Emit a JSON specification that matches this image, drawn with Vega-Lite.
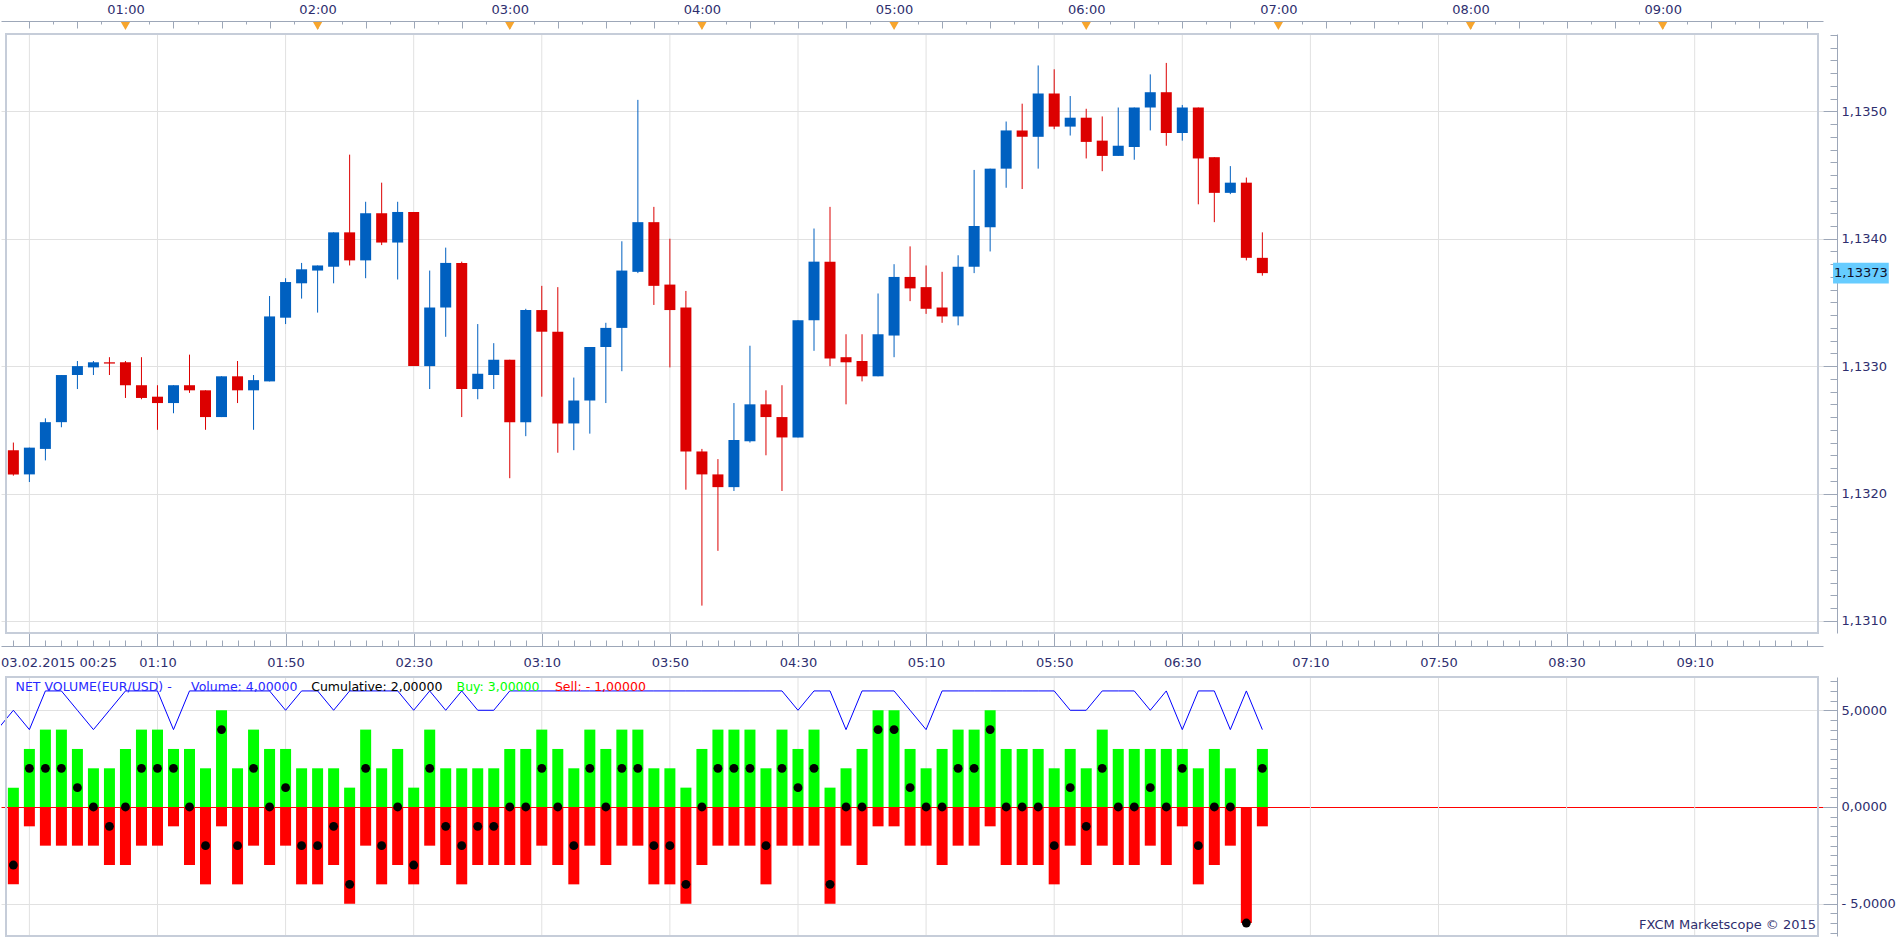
{
"$schema": "https://vega.github.io/schema/vega-lite/v6.json",
"width": 1822, "height": 902,
"autosize": {"type": "none"},
"padding": {"left": 1, "top": 34, "right": 80, "bottom": 1},
"background": "white",
"config": {
  "view": {"stroke": null},
  "axis": {"labelFont": "DejaVu Sans", "labelFontSize": 13, "labelColor": "#2e2e6e", "domainColor": "#9da7b8", "tickColor": "#9da7b8", "gridColor": "#e1e1e1", "domainWidth": 1, "tickWidth": 1, "gridWidth": 1, "labelOverlap": false}
},
"datasets": {
  "candles": [
    {"t":25,"o":1.13234,"h":1.13240,"l":1.13214,"c":1.13215},
    {"t":30,"o":1.13215,"h":1.13236,"l":1.13209,"c":1.13236},
    {"t":35,"o":1.13235,"h":1.13259,"l":1.13226,"c":1.13256},
    {"t":40,"o":1.13256,"h":1.13293,"l":1.13252,"c":1.13293},
    {"t":45,"o":1.13293,"h":1.13304,"l":1.13282,"c":1.13300},
    {"t":50,"o":1.13299,"h":1.13304,"l":1.13293,"c":1.13303},
    {"t":55,"o":1.13303,"h":1.13307,"l":1.13293,"c":1.13302},
    {"t":60,"o":1.13303,"h":1.13304,"l":1.13275,"c":1.13285},
    {"t":65,"o":1.13285,"h":1.13307,"l":1.13274,"c":1.13275},
    {"t":70,"o":1.13276,"h":1.13285,"l":1.13250,"c":1.13271},
    {"t":75,"o":1.13271,"h":1.13285,"l":1.13263,"c":1.13285},
    {"t":80,"o":1.13285,"h":1.13309,"l":1.13279,"c":1.13281},
    {"t":85,"o":1.13281,"h":1.13281,"l":1.13250,"c":1.13260},
    {"t":90,"o":1.13260,"h":1.13292,"l":1.13260,"c":1.13292},
    {"t":95,"o":1.13292,"h":1.13304,"l":1.13271,"c":1.13281},
    {"t":100,"o":1.13281,"h":1.13293,"l":1.13250,"c":1.13289},
    {"t":105,"o":1.13288,"h":1.13355,"l":1.13288,"c":1.13339},
    {"t":110,"o":1.13338,"h":1.13369,"l":1.13333,"c":1.13366},
    {"t":115,"o":1.13365,"h":1.13381,"l":1.13353,"c":1.13376},
    {"t":120,"o":1.13375,"h":1.13379,"l":1.13342,"c":1.13379},
    {"t":125,"o":1.13378,"h":1.13405,"l":1.13365,"c":1.13405},
    {"t":130,"o":1.13405,"h":1.13466,"l":1.13379,"c":1.13383},
    {"t":135,"o":1.13383,"h":1.13429,"l":1.13369,"c":1.13420},
    {"t":140,"o":1.13420,"h":1.13444,"l":1.13395,"c":1.13397},
    {"t":145,"o":1.13397,"h":1.13429,"l":1.13368,"c":1.13421},
    {"t":150,"o":1.13421,"h":1.13421,"l":1.13300,"c":1.13300},
    {"t":155,"o":1.13300,"h":1.13375,"l":1.13282,"c":1.13346},
    {"t":160,"o":1.13346,"h":1.13393,"l":1.13323,"c":1.13381},
    {"t":165,"o":1.13381,"h":1.13382,"l":1.13260,"c":1.13282},
    {"t":170,"o":1.13282,"h":1.13333,"l":1.13274,"c":1.13294},
    {"t":175,"o":1.13293,"h":1.13318,"l":1.13282,"c":1.13305},
    {"t":180,"o":1.13305,"h":1.13305,"l":1.13212,"c":1.13256},
    {"t":185,"o":1.13256,"h":1.13345,"l":1.13245,"c":1.13344},
    {"t":190,"o":1.13344,"h":1.13363,"l":1.13276,"c":1.13327},
    {"t":195,"o":1.13327,"h":1.13362,"l":1.13232,"c":1.13255},
    {"t":200,"o":1.13255,"h":1.13291,"l":1.13234,"c":1.13273},
    {"t":205,"o":1.13273,"h":1.13315,"l":1.13247,"c":1.13315},
    {"t":210,"o":1.13315,"h":1.13334,"l":1.13271,"c":1.13330},
    {"t":215,"o":1.13330,"h":1.13398,"l":1.13296,"c":1.13375},
    {"t":220,"o":1.13374,"h":1.13509,"l":1.13373,"c":1.13413},
    {"t":225,"o":1.13413,"h":1.13425,"l":1.13348,"c":1.13363},
    {"t":230,"o":1.13364,"h":1.13400,"l":1.13299,"c":1.13344},
    {"t":235,"o":1.13346,"h":1.13359,"l":1.13203,"c":1.13233},
    {"t":240,"o":1.13233,"h":1.13235,"l":1.13112,"c":1.13215},
    {"t":245,"o":1.13215,"h":1.13227,"l":1.13155,"c":1.13205},
    {"t":250,"o":1.13205,"h":1.13271,"l":1.13202,"c":1.13242},
    {"t":255,"o":1.13241,"h":1.13316,"l":1.13240,"c":1.13270},
    {"t":260,"o":1.13270,"h":1.13281,"l":1.13230,"c":1.13260},
    {"t":265,"o":1.13260,"h":1.13285,"l":1.13202,"c":1.13244},
    {"t":270,"o":1.13244,"h":1.13336,"l":1.13244,"c":1.13336},
    {"t":275,"o":1.13336,"h":1.13408,"l":1.13312,"c":1.13382},
    {"t":280,"o":1.13382,"h":1.13425,"l":1.13300,"c":1.13306},
    {"t":285,"o":1.13307,"h":1.13325,"l":1.13270,"c":1.13303},
    {"t":290,"o":1.13304,"h":1.13325,"l":1.13288,"c":1.13292},
    {"t":295,"o":1.13292,"h":1.13357,"l":1.13292,"c":1.13325},
    {"t":300,"o":1.13324,"h":1.13380,"l":1.13307,"c":1.13370},
    {"t":305,"o":1.13370,"h":1.13394,"l":1.13351,"c":1.13361},
    {"t":310,"o":1.13362,"h":1.13379,"l":1.13341,"c":1.13345},
    {"t":315,"o":1.13346,"h":1.13374,"l":1.13334,"c":1.13339},
    {"t":320,"o":1.13339,"h":1.13387,"l":1.13332,"c":1.13378},
    {"t":325,"o":1.13378,"h":1.13454,"l":1.13373,"c":1.13410},
    {"t":330,"o":1.13409,"h":1.13455,"l":1.13390,"c":1.13455},
    {"t":335,"o":1.13455,"h":1.13492,"l":1.13440,"c":1.13485},
    {"t":340,"o":1.13485,"h":1.13506,"l":1.13439,"c":1.13480},
    {"t":345,"o":1.13480,"h":1.13536,"l":1.13455,"c":1.13514},
    {"t":350,"o":1.13514,"h":1.13533,"l":1.13486,"c":1.13488},
    {"t":355,"o":1.13488,"h":1.13512,"l":1.13481,"c":1.13495},
    {"t":360,"o":1.13495,"h":1.13502,"l":1.13463,"c":1.13476},
    {"t":365,"o":1.13477,"h":1.13496,"l":1.13453,"c":1.13465},
    {"t":370,"o":1.13465,"h":1.13503,"l":1.13465,"c":1.13473},
    {"t":375,"o":1.13472,"h":1.13503,"l":1.13462,"c":1.13503},
    {"t":380,"o":1.13503,"h":1.13529,"l":1.13485,"c":1.13515},
    {"t":385,"o":1.13515,"h":1.13538,"l":1.13473,"c":1.13483},
    {"t":390,"o":1.13483,"h":1.13505,"l":1.13477,"c":1.13503},
    {"t":395,"o":1.13503,"h":1.13503,"l":1.13427,"c":1.13463},
    {"t":400,"o":1.13464,"h":1.13464,"l":1.13413,"c":1.13436},
    {"t":405,"o":1.13436,"h":1.13457,"l":1.13435,"c":1.13444},
    {"t":410,"o":1.13444,"h":1.13448,"l":1.13383,"c":1.13385},
    {"t":415,"o":1.13385,"h":1.13405,"l":1.13371,"c":1.13373}
  ],
  "vol": [
    {"t":20,"vol":4},
    {"t":25,"buy":1,"sell":-4,"vol":5,"net":-3},
    {"t":30,"buy":3,"sell":-1,"vol":4,"net":2},
    {"t":35,"buy":4,"sell":-2,"vol":6,"net":2},
    {"t":40,"buy":4,"sell":-2,"vol":6,"net":2},
    {"t":45,"buy":3,"sell":-2,"vol":5,"net":1},
    {"t":50,"buy":2,"sell":-2,"vol":4,"net":0},
    {"t":55,"buy":2,"sell":-3,"vol":5,"net":-1},
    {"t":60,"buy":3,"sell":-3,"vol":6,"net":0},
    {"t":65,"buy":4,"sell":-2,"vol":6,"net":2},
    {"t":70,"buy":4,"sell":-2,"vol":6,"net":2},
    {"t":75,"buy":3,"sell":-1,"vol":4,"net":2},
    {"t":80,"buy":3,"sell":-3,"vol":6,"net":0},
    {"t":85,"buy":2,"sell":-4,"vol":6,"net":-2},
    {"t":90,"buy":5,"sell":-1,"vol":6,"net":4},
    {"t":95,"buy":2,"sell":-4,"vol":6,"net":-2},
    {"t":100,"buy":4,"sell":-2,"vol":6,"net":2},
    {"t":105,"buy":3,"sell":-3,"vol":6,"net":0},
    {"t":110,"buy":3,"sell":-2,"vol":5,"net":1},
    {"t":115,"buy":2,"sell":-4,"vol":6,"net":-2},
    {"t":120,"buy":2,"sell":-4,"vol":6,"net":-2},
    {"t":125,"buy":2,"sell":-3,"vol":5,"net":-1},
    {"t":130,"buy":1,"sell":-5,"vol":6,"net":-4},
    {"t":135,"buy":4,"sell":-2,"vol":6,"net":2},
    {"t":140,"buy":2,"sell":-4,"vol":6,"net":-2},
    {"t":145,"buy":3,"sell":-3,"vol":6,"net":0},
    {"t":150,"buy":1,"sell":-4,"vol":5,"net":-3},
    {"t":155,"buy":4,"sell":-2,"vol":6,"net":2},
    {"t":160,"buy":2,"sell":-3,"vol":5,"net":-1},
    {"t":165,"buy":2,"sell":-4,"vol":6,"net":-2},
    {"t":170,"buy":2,"sell":-3,"vol":5,"net":-1},
    {"t":175,"buy":2,"sell":-3,"vol":5,"net":-1},
    {"t":180,"buy":3,"sell":-3,"vol":6,"net":0},
    {"t":185,"buy":3,"sell":-3,"vol":6,"net":0},
    {"t":190,"buy":4,"sell":-2,"vol":6,"net":2},
    {"t":195,"buy":3,"sell":-3,"vol":6,"net":0},
    {"t":200,"buy":2,"sell":-4,"vol":6,"net":-2},
    {"t":205,"buy":4,"sell":-2,"vol":6,"net":2},
    {"t":210,"buy":3,"sell":-3,"vol":6,"net":0},
    {"t":215,"buy":4,"sell":-2,"vol":6,"net":2},
    {"t":220,"buy":4,"sell":-2,"vol":6,"net":2},
    {"t":225,"buy":2,"sell":-4,"vol":6,"net":-2},
    {"t":230,"buy":2,"sell":-4,"vol":6,"net":-2},
    {"t":235,"buy":1,"sell":-5,"vol":6,"net":-4},
    {"t":240,"buy":3,"sell":-3,"vol":6,"net":0},
    {"t":245,"buy":4,"sell":-2,"vol":6,"net":2},
    {"t":250,"buy":4,"sell":-2,"vol":6,"net":2},
    {"t":255,"buy":4,"sell":-2,"vol":6,"net":2},
    {"t":260,"buy":2,"sell":-4,"vol":6,"net":-2},
    {"t":265,"buy":4,"sell":-2,"vol":6,"net":2},
    {"t":270,"buy":3,"sell":-2,"vol":5,"net":1},
    {"t":275,"buy":4,"sell":-2,"vol":6,"net":2},
    {"t":280,"buy":1,"sell":-5,"vol":6,"net":-4},
    {"t":285,"buy":2,"sell":-2,"vol":4,"net":0},
    {"t":290,"buy":3,"sell":-3,"vol":6,"net":0},
    {"t":295,"buy":5,"sell":-1,"vol":6,"net":4},
    {"t":300,"buy":5,"sell":-1,"vol":6,"net":4},
    {"t":305,"buy":3,"sell":-2,"vol":5,"net":1},
    {"t":310,"buy":2,"sell":-2,"vol":4,"net":0},
    {"t":315,"buy":3,"sell":-3,"vol":6,"net":0},
    {"t":320,"buy":4,"sell":-2,"vol":6,"net":2},
    {"t":325,"buy":4,"sell":-2,"vol":6,"net":2},
    {"t":330,"buy":5,"sell":-1,"vol":6,"net":4},
    {"t":335,"buy":3,"sell":-3,"vol":6,"net":0},
    {"t":340,"buy":3,"sell":-3,"vol":6,"net":0},
    {"t":345,"buy":3,"sell":-3,"vol":6,"net":0},
    {"t":350,"buy":2,"sell":-4,"vol":6,"net":-2},
    {"t":355,"buy":3,"sell":-2,"vol":5,"net":1},
    {"t":360,"buy":2,"sell":-3,"vol":5,"net":-1},
    {"t":365,"buy":4,"sell":-2,"vol":6,"net":2},
    {"t":370,"buy":3,"sell":-3,"vol":6,"net":0},
    {"t":375,"buy":3,"sell":-3,"vol":6,"net":0},
    {"t":380,"buy":3,"sell":-2,"vol":5,"net":1},
    {"t":385,"buy":3,"sell":-3,"vol":6,"net":0},
    {"t":390,"buy":3,"sell":-1,"vol":4,"net":2},
    {"t":395,"buy":2,"sell":-4,"vol":6,"net":-2},
    {"t":400,"buy":3,"sell":-3,"vol":6,"net":0},
    {"t":405,"buy":2,"sell":-2,"vol":4,"net":0},
    {"t":410,"buy":0,"sell":-6,"vol":6,"net":-6},
    {"t":415,"buy":3,"sell":-1,"vol":4,"net":2}
  ],
  "grid": [{"t":30},{"t":70},{"t":110},{"t":150},{"t":190},{"t":230},{"t":270},{"t":310},{"t":350},{"t":390},{"t":430},{"t":470},{"t":510},{"t":550}],
  "hours": [{"t":60},{"t":120},{"t":180},{"t":240},{"t":300},{"t":360},{"t":420},{"t":480},{"t":540}]
},
"resolve": {"scale": {"y": "independent"}, "axis": {"x": "independent", "y": "independent"}},
"layer": [
  {
    "resolve": {"axis": {"x": "independent", "y": "independent"}},
    "layer": [
      {
        "data": {"name": "grid"},
        "mark": {"type": "rule", "color": "#e1e1e1", "strokeWidth": 1},
        "encoding": {
          "x": {"field": "t", "type": "quantitative", "scale": {"domain": [22.7, 588.5], "nice": false, "zero": false},
                "axis": {"orient": "top", "title": null, "values": [60,120,180,240,300,360,420,480,540], "labelExpr": "(floor(datum.value/60) < 10 ? '0' : '') + floor(datum.value/60) + ':' + (datum.value % 60 < 10 ? '0' : '') + (datum.value % 60)", "ticks": false, "domain": false, "grid": false, "labelPadding": 18}},
          "y": {"datum": 1.135607, "type": "quantitative", "scale": {"domain": [1.130905, 1.135607], "range": [599, 0], "nice": false, "zero": false},
                "axis": {"orient": "right", "offset": 14, "title": null, "values": [1.131, 1.132, 1.133, 1.134, 1.135], "labelExpr": "replace(format(datum.value, '.4f'), '.', ',')", "ticks": false, "domain": false, "grid": true, "labelPadding": 4}},
          "y2": {"datum": 1.130905}
        }
      },
      {
        "data": {"name": "candles"},
        "mark": {"type": "rule", "strokeWidth": 1},
        "encoding": {
          "x": {"field": "t", "type": "quantitative", "scale": {"domain": [22.7, 588.5], "nice": false, "zero": false},
                "axis": {"orient": "bottom", "offset": -915, "title": null, "values": [30,45,60,75,90,105,120,135,150,165,180,195,210,225,240,255,270,285,300,315,330,345,360,375,390,405,420,435,450,465,480,495,510,525,540,555,570,585], "labels": false, "grid": false, "domain": true, "tickSize": 7}},
          "y": {"field": "l", "type": "quantitative", "scale": {"domain": [1.130905, 1.135607], "range": [599, 0], "nice": false, "zero": false},
                "axis": {"orient": "left", "offset": -1836, "title": null, "values": [1.131, 1.132, 1.133, 1.134, 1.135], "labels": false, "grid": false, "domain": true, "tickSize": 14}},
          "y2": {"field": "h"},
          "color": {"condition": {"test": "datum.c > datum.o", "value": "#0060c0"}, "value": "#dc0000"}
        }
      },
      {
        "data": {"name": "candles"},
        "mark": {"type": "bar", "width": 11, "orient": "vertical"},
        "encoding": {
          "x": {"field": "t", "type": "quantitative", "scale": {"domain": [22.7, 588.5], "nice": false, "zero": false},
                "axis": {"orient": "bottom", "offset": -915, "title": null, "values": [37.5,52.5,67.5,82.5,97.5,112.5,127.5,142.5,157.5,172.5,187.5,202.5,217.5,232.5,247.5,262.5,277.5,292.5,307.5,322.5,337.5,352.5,367.5,382.5,397.5,412.5,427.5,442.5,457.5,472.5,487.5,502.5,517.5,532.5,547.5,562.5,577.5], "labels": false, "grid": false, "domain": false, "tickSize": 3}},
          "y": {"field": "o", "type": "quantitative", "scale": {"domain": [1.130905, 1.135607], "range": [599, 0], "nice": false, "zero": false},
                "axis": {"orient": "left", "offset": -1836, "title": null, "values": [1.1310,1.1311,1.1312,1.1313,1.1314,1.1315,1.1316,1.1317,1.1318,1.1319,1.1320,1.1321,1.1322,1.1323,1.1324,1.1325,1.1326,1.1327,1.1328,1.1329,1.1330,1.1331,1.1332,1.1333,1.1334,1.1335,1.1336,1.1337,1.1338,1.1339,1.1340,1.1341,1.1342,1.1343,1.1344,1.1345,1.1346,1.1347,1.1348,1.1349,1.1350,1.1351,1.1352,1.1353,1.1354,1.1355,1.1356], "labels": false, "grid": false, "domain": false, "tickSize": 7}},
          "y2": {"field": "c"},
          "color": {"condition": {"test": "datum.c > datum.o", "value": "#0060c0"}, "value": "#dc0000"}
        }
      },
      {
        "data": {"values": [{}]},
        "mark": {"type": "rect", "fill": "white", "fillOpacity": 0, "stroke": "#c6cdd9", "strokeWidth": 2},
        "encoding": {
          "x": {"datum": 22.7, "type": "quantitative", "axis": null},
          "x2": {"datum": 588.5},
          "y": {"datum": 1.135607, "type": "quantitative", "axis": null},
          "y2": {"datum": 1.130905}
        }
      },
      {
        "data": {"name": "hours"},
        "mark": {"type": "point", "shape": "triangle-down", "filled": true, "color": "#f7a52d", "size": 85, "opacity": 1},
        "encoding": {
          "x": {"field": "t", "type": "quantitative", "axis": null},
          "y": {"datum": 1.13567, "type": "quantitative", "axis": null}
        }
      },
      {
        "data": {"values": [{}]},
        "mark": {"type": "rect", "fill": "#66ccff"},
        "encoding": {
          "x": {"datum": 593.2, "type": "quantitative", "axis": null},
          "x2": {"datum": 610.6},
          "y": {"datum": 1.133812, "type": "quantitative", "axis": null},
          "y2": {"datum": 1.133648}
        }
      },
      {
        "data": {"values": [{}]},
        "mark": {"type": "text", "text": "1,13373", "font": "DejaVu Sans", "fontSize": 13, "color": "#10102a", "align": "left", "baseline": "middle"},
        "encoding": {
          "x": {"datum": 593.5, "type": "quantitative", "axis": null},
          "y": {"datum": 1.13373, "type": "quantitative", "axis": null}
        }
      }
    ]
  },
  {
    "resolve": {"axis": {"x": "independent", "y": "independent"}},
    "layer": [
      {
        "data": {"name": "grid"},
        "mark": {"type": "rule", "color": "#e1e1e1", "strokeWidth": 1},
        "encoding": {
          "x": {"field": "t", "type": "quantitative", "scale": {"domain": [22.7, 588.5], "nice": false, "zero": false},
                "axis": {"orient": "bottom", "offset": -290, "title": null, "values": [30,70,110,150,190,230,270,310,350,390,430,470,510,550], "labelExpr": "datum.value == 30 ? '03.02.2015 00:25' : (floor(datum.value/60) < 10 ? '0' : '') + floor(datum.value/60) + ':' + (datum.value % 60 < 10 ? '0' : '') + (datum.value % 60)", "ticks": false, "domain": true, "grid": false, "labelPadding": 10, "labelFlush": 30, "labelFlushOffset": 29}},
          "y": {"datum": 6.72, "type": "quantitative", "scale": {"domain": [-6.67, 6.72], "range": [902, 643], "nice": false, "zero": false},
                "axis": {"orient": "right", "offset": 14, "title": null, "values": [-5, 0, 5], "labelExpr": "datum.value < 0 ? '- ' + replace(format(-datum.value, '.4f'), '.', ',') : replace(format(datum.value, '.4f'), '.', ',')", "ticks": false, "domain": false, "grid": true, "gridColor": {"condition": {"test": "datum.value === 0", "value": "#ff0000"}, "value": "#e1e1e1"}, "labelPadding": 4}},
          "y2": {"datum": -6.67}
        }
      },
      {
        "data": {"name": "vol"},
        "transform": [{"filter": "datum.buy != null"}],
        "mark": {"type": "bar", "width": 11, "orient": "vertical", "color": "#00ff00"},
        "encoding": {
          "x": {"field": "t", "type": "quantitative", "scale": {"domain": [22.7, 588.5], "nice": false, "zero": false},
                "axis": {"orient": "top", "offset": -612, "title": null, "values": [30,70,110,150,190,230,270,310,350,390,430,470,510,550], "labels": false, "grid": false, "domain": false, "tickSize": 13}},
          "y": {"field": "buy", "type": "quantitative", "scale": {"domain": [-6.67, 6.72], "range": [902, 643], "nice": false, "zero": false},
                "axis": {"orient": "left", "offset": -1836, "title": null, "values": [-5, 0, 5], "labels": false, "grid": false, "domain": true, "tickSize": 14}},
          "y2": {"datum": 0}
        }
      },
      {
        "data": {"name": "vol"},
        "transform": [{"filter": "datum.sell != null"}],
        "mark": {"type": "bar", "width": 11, "orient": "vertical", "color": "#ff0000"},
        "encoding": {
          "x": {"field": "t", "type": "quantitative", "scale": {"domain": [22.7, 588.5], "nice": false, "zero": false},
                "axis": {"orient": "top", "offset": -612, "title": null, "values": [25,30,35,40,45,50,55,60,65,70,75,80,85,90,95,100,105,110,115,120,125,130,135,140,145,150,155,160,165,170,175,180,185,190,195,200,205,210,215,220,225,230,235,240,245,250,255,260,265,270,275,280,285,290,295,300,305,310,315,320,325,330,335,340,345,350,355,360,365,370,375,380,385,390,395,400,405,410,415,420,425,430,435,440,445,450,455,460,465,470,475,480,485,490,495,500,505,510,515,520,525,530,535,540,545,550,555,560,565,570,575,580,585], "labels": false, "grid": false, "domain": false, "tickSize": 6}},
          "y": {"field": "sell", "type": "quantitative", "scale": {"domain": [-6.67, 6.72], "range": [902, 643], "nice": false, "zero": false},
                "axis": {"orient": "left", "offset": -1836, "title": null, "values": [-6.5,-6,-5.5,-5,-4.5,-4,-3.5,-3,-2.5,-2,-1.5,-1,-0.5,0,0.5,1,1.5,2,2.5,3,3.5,4,4.5,5,5.5,6,6.5], "labels": false, "grid": false, "domain": false, "tickSize": 7}},
          "y2": {"datum": 0}
        }
      },
      {
        "data": {"name": "vol"},
        "mark": {"type": "line", "color": "#0000ff", "strokeWidth": 1, "clip": true},
        "encoding": {
          "x": {"field": "t", "type": "quantitative", "axis": null},
          "y": {"field": "vol", "type": "quantitative", "axis": null}
        }
      },
      {
        "data": {"name": "vol"},
        "transform": [{"filter": "datum.net != null"}],
        "mark": {"type": "point", "filled": true, "color": "#000000", "size": 78, "opacity": 1},
        "encoding": {
          "x": {"field": "t", "type": "quantitative", "axis": null},
          "y": {"field": "net", "type": "quantitative", "axis": null}
        }
      },
      {
        "data": {"values": [{}]},
        "mark": {"type": "rect", "fill": "white", "fillOpacity": 0, "stroke": "#c6cdd9", "strokeWidth": 2},
        "encoding": {
          "x": {"datum": 22.7, "type": "quantitative", "axis": null},
          "x2": {"datum": 588.5},
          "y": {"datum": 6.72, "type": "quantitative", "axis": null},
          "y2": {"datum": -6.67}
        }
      },
      {
        "data": {"values": [{}]},
        "mark": {"type": "text", "text": "NET VOLUME(EUR/USD) -", "font": "DejaVu Sans", "fontSize": 12.5, "color": "#2828ff", "align": "left", "baseline": "middle"},
        "encoding": {"x": {"datum": 25.7, "type": "quantitative", "axis": null}, "y": {"datum": 6.2, "type": "quantitative", "axis": null}}
      },
      {
        "data": {"values": [{}]},
        "mark": {"type": "text", "text": "Volume: 4,00000", "font": "DejaVu Sans", "fontSize": 12.5, "color": "#2828ff", "align": "left", "baseline": "middle"},
        "encoding": {"x": {"datum": 80.5, "type": "quantitative", "axis": null}, "y": {"datum": 6.2, "type": "quantitative", "axis": null}}
      },
      {
        "data": {"values": [{}]},
        "mark": {"type": "text", "text": "Cumulative: 2,00000", "font": "DejaVu Sans", "fontSize": 12.5, "color": "#000000", "align": "left", "baseline": "middle"},
        "encoding": {"x": {"datum": 118.0, "type": "quantitative", "axis": null}, "y": {"datum": 6.2, "type": "quantitative", "axis": null}}
      },
      {
        "data": {"values": [{}]},
        "mark": {"type": "text", "text": "Buy: 3,00000", "font": "DejaVu Sans", "fontSize": 12.5, "color": "#00ff00", "align": "left", "baseline": "middle"},
        "encoding": {"x": {"datum": 163.4, "type": "quantitative", "axis": null}, "y": {"datum": 6.2, "type": "quantitative", "axis": null}}
      },
      {
        "data": {"values": [{}]},
        "mark": {"type": "text", "text": "Sell: - 1,00000", "font": "DejaVu Sans", "fontSize": 12.5, "color": "#ff0000", "align": "left", "baseline": "middle"},
        "encoding": {"x": {"datum": 194.1, "type": "quantitative", "axis": null}, "y": {"datum": 6.2, "type": "quantitative", "axis": null}}
      },
      {
        "data": {"values": [{}]},
        "mark": {"type": "text", "text": "FXCM Marketscope © 2015", "font": "DejaVu Sans", "fontSize": 13, "color": "#2e2e6e", "align": "right", "baseline": "middle"},
        "encoding": {"x": {"datum": 587.9, "type": "quantitative", "axis": null}, "y": {"datum": -6.1, "type": "quantitative", "axis": null}}
      }
    ]
  }
]
}
